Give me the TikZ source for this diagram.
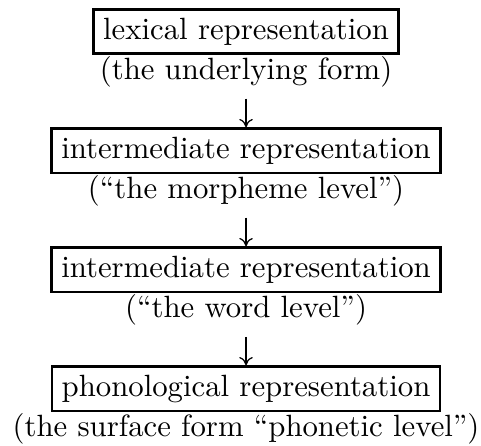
\documentclass[tikz,border=0pt]{standalone}
\usetikzlibrary{arrows.meta}
\begin{document}
\begin{tikzpicture}[x=1pt,y=1pt,
  box/.style={draw, line width=0.85pt, inner xsep=3.2pt, inner ysep=2.75pt,
    text height=6.94pt, text depth=1.94pt},
  lbl/.style={inner sep=0pt, anchor=base, text height=7.5pt, text depth=2.5pt},
  arr/.style={line width=0.4pt,
    -{Computer Modern Rightarrow[length=2.7pt,width=4.4pt]}}]
\useasboundingbox (0,0) rectangle (156.4,-144.7);
\node[box] (b1) at (80,-10.3) {lexical representation};
\node[lbl] (t1) at (80,-25.9) {(the underlying form)};
\node[box] (b2) at (80,-49.0) {intermediate representation};
\node[lbl] (t2) at (80,-64.6) {(“the morpheme level”)};
\node[box] (b3) at (80,-87.7) {intermediate representation};
\node[lbl] (t3) at (80,-103.3) {(“the word level”)};
\node[box] (b4) at (80,-126.4) {phonological representation};
\node[lbl] (t4) at (80,-142.0) {(the surface form “phonetic level”)};
\draw[arr] ([yshift=-3.5pt]t1.south) -- (b2.north);
\draw[arr] ([yshift=-3.5pt]t2.south) -- (b3.north);
\draw[arr] ([yshift=-3.5pt]t3.south) -- (b4.north);
\end{tikzpicture}
\end{document}
